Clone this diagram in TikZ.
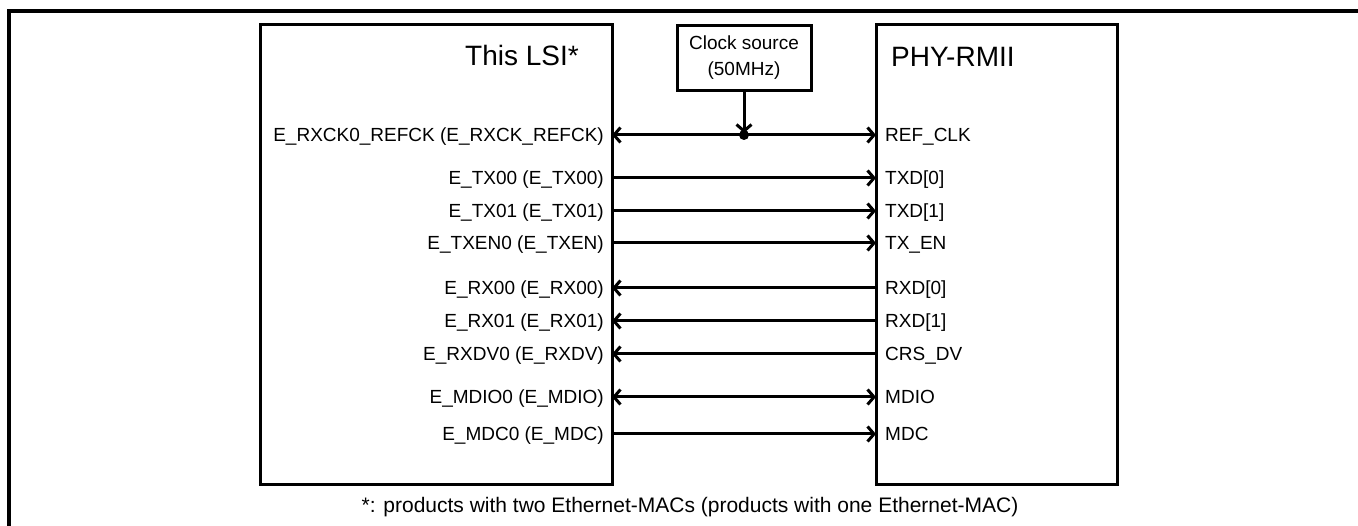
\documentclass[tikz,border=0pt]{standalone}
\usepackage{fontspec}
\setmainfont{Liberation Sans}
\usetikzlibrary{arrows.meta}

\tikzset{
	bloque/.style={draw,line width=3pt,inner sep=0pt,outer sep=0pt},
	sig/.style={line width=3pt},
	punta/.tip={Straight Barb[length=6.5pt,width=15pt]},
	haciaphy/.style={-punta},
	hacialsi/.style={punta-},
	ambos/.style={punta-punta},
	etq/.style={font=\fontsize{19}{22}\selectfont,inner sep=0pt,text height=13.5pt,text depth=0pt},
	titulo/.style={font=\fontsize{28}{32}\selectfont,inner sep=0pt}
}

\begin{document}
\begin{tikzpicture}[x=1pt,y=-1pt]
		
		% Ventana
		\useasboundingbox (0,0) rectangle (1358,526);
		
		% Marco
		\draw[line width=3.6pt] (9,560) -- (9,11) -- (1400,11);
		
		% Bloques
		\node[bloque,minimum width=352pt,minimum height=460pt] (lsi) at (436,255) {};
		\node[bloque,minimum width=241pt,minimum height=460pt] (phy) at (996.5,255) {};
		\node[bloque,minimum width=134pt,minimum height=65pt,align=center,
			font=\fontsize{19}{26}\selectfont] (clk) at (744,58) {Clock source\\(50MHz)};
		
		% Titulos
		\node[titulo,anchor=east] (lsitit) at (579,55) {This LSI*};
		\node[titulo,anchor=west] (phytit) at (891,57) {PHY-RMII};
		
		% Senales
		\foreach \y/\izq/\der/\tipo/\n in {
			135/{E\_RXCK0\_REFCK (E\_RXCK\_REFCK)}/{REF\_CLK}/ambos/1,
			178/{E\_TX00 (E\_TX00)}/{TXD[0]}/haciaphy/2,
			211/{E\_TX01 (E\_TX01)}/{TXD[1]}/haciaphy/3,
			243/{E\_TXEN0 (E\_TXEN)}/{TX\_EN}/haciaphy/4,
			288/{E\_RX00 (E\_RX00)}/{RXD[0]}/hacialsi/5,
			321/{E\_RX01 (E\_RX01)}/{RXD[1]}/hacialsi/6,
			354/{E\_RXDV0 (E\_RXDV)}/{CRS\_DV}/hacialsi/7,
			397/{E\_MDIO0 (E\_MDIO)}/{MDIO}/ambos/8,
			434/{E\_MDC0 (E\_MDC)}/{MDC}/haciaphy/9}{
			\node[etq,anchor=east] (i\n) at (604,\y) {\izq};
			\node[etq,anchor=west] (d\n) at (885,\y) {\der};
			\coordinate (a\n) at (lsi.east |- i\n);
			\coordinate (b\n) at (phy.west |- d\n);
			\draw[sig,\tipo] (a\n) -- (b\n);
		}
		
		% Reloj
		\coordinate (union) at (clk.south |- a1);
		\fill (union) circle (5pt);
		\draw[sig,haciaphy,shorten >=2pt] (clk.south) -- (union);
		
		% Nota
		\node[font=\fontsize{21}{24}\selectfont,inner sep=0pt] (nota) at (690,507)
		{*: products with two Ethernet-MACs (products with one Ethernet-MAC)};
		
	\end{tikzpicture}
\end{document}
